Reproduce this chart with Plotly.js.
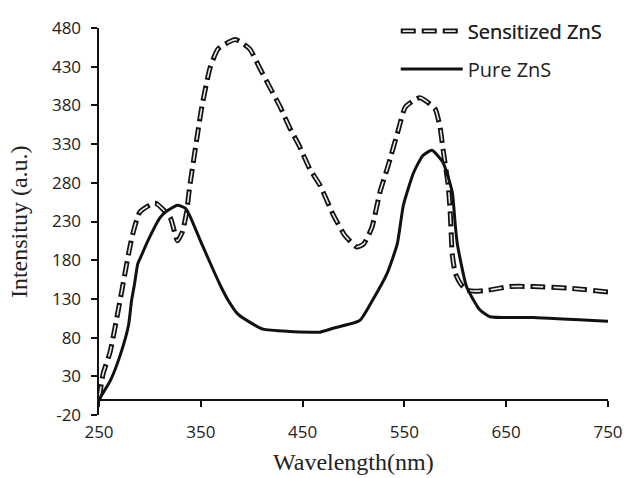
<!DOCTYPE html>
<html>
<head>
<meta charset="utf-8">
<script src="https://cdn.plot.ly/plotly-3.0.1.min.js"></script>
<style>html,body{margin:0;padding:0;background:#fff;}#chart{width:628px;height:478px;}</style>
</head>
<body>
<div id="chart"></div>
<script>
// Sensitized ZnS (dashed)
const sensX = [250,254,261,269,279,283,290,305,320,327,332,336,339,346,351,359,367,384,398,408,418,428,437,447,457,467,480,491,503,510,518,526,534,544,551,565,580,585,588,593,595,596,597,600,606,612,620,631,654,677,710,750];
const sensY = [0,33,62,116,188,213,242,254,235,205,217,242,274,336,378,428,453,465,453,428,403,378,352,327,298,277,239,213,197,201,222,268,302,348,378,390,376,352,323,277,242,213,188,163,148,141,140,141,146,146,144,139];
// Pure ZnS (solid)
const pureX = [250,251,261,271,279,282,285,288,291,298,310,316,327,335,340,349,359,369,377,386,398,411,437,460,467,480,506,519,533,543,549,559,568,577,588,597,600,602,611,624,634,677,750];
const pureY = [-2,2,24,58,96,128,150,175,184,205,235,243,251,247,235,207,177,148,128,111,100,91,88,87,87,92,102,129,163,201,251,293,315,322,306,268,225,201,146,116,107,106,101];
const xTicks = [250,350,450,550,650,750];
const yTicks = [-20,30,80,130,180,230,280,330,380,430,480];
const sensName = 'Sensitized ZnS';
const pureName = 'Pure ZnS';
const xTitle = 'Wavelength(nm)';
const yTitle = 'Intensituy (a.u.)';

const traces = [
  {x: sensX, y: sensY, type: 'scatter', mode: 'lines', name: sensName, legend: 'legend',
   line: {color: '#111', width: 5, dash: '15px,6px', shape: 'spline', smoothing: 0.5}},
  {x: sensX, y: sensY, type: 'scatter', mode: 'lines', name: sensName, legend: 'legend3',
   line: {color: '#e8e8e8', width: 1.6, dash: '0px,2px,11px,8px', shape: 'spline', smoothing: 0.5}},
  {x: pureX, y: pureY, type: 'scatter', mode: 'lines', name: pureName, legend: 'legend2',
   line: {color: '#111', width: 3, shape: 'spline', smoothing: 0.5}}
];

const legFont = {family: 'Open Sans, sans-serif', size: 20, color: '#222'};
const legBase = {xanchor: 'left', yanchor: 'middle', bgcolor: 'rgba(0,0,0,0)', font: legFont, itemwidth: 62, borderwidth: 0};

const layout = {
  width: 628, height: 478,
  margin: {l: 99, r: 20, t: 19, b: 63, pad: 0},
  paper_bgcolor: '#fff', plot_bgcolor: '#fff',
  font: {family: 'Open Sans, sans-serif', size: 17, color: '#222'},
  xaxis: {
    range: [250, 750], tickvals: xTicks, ticktext: xTicks.map(String),
    showgrid: false, zeroline: false, showline: true, linecolor: '#111', linewidth: 2.5,
    ticks: 'outside', ticklen: 6, tickwidth: 2, tickcolor: '#111',
    anchor: 'free', position: 0.04, ticklabelstandoff: 11,
    tickfont: {family: 'Open Sans, sans-serif', size: 17, color: '#222'}
  },
  yaxis: {
    range: [-20, 480], tickvals: yTicks, ticktext: yTicks.map(String),
    showgrid: false, zeroline: false, showline: true, linecolor: '#111', linewidth: 2.5,
    ticks: 'outside', ticklen: 6, tickwidth: 2, tickcolor: '#111',
    ticklabelstandoff: 6,
    tickfont: {family: 'Open Sans, sans-serif', size: 17, color: '#222'}
  },
  showlegend: true,
  legend: Object.assign({}, legBase, {x: 0.583, y: 0.992}),
  legend3: Object.assign({}, legBase, {x: 0.583, y: 0.992}),
  legend2: Object.assign({}, legBase, {x: 0.583, y: 0.894}),
  annotations: [
    {text: xTitle, xref: 'paper', yref: 'paper', x: 0.5, y: -0.122, xanchor: 'center', yanchor: 'middle', showarrow: false,
     font: {family: 'Liberation Serif, Times New Roman, serif', size: 24, color: '#222'}},
    {text: yTitle, xref: 'paper', yref: 'paper', x: -0.158, y: 0.5, xanchor: 'center', yanchor: 'middle', showarrow: false, textangle: -90,
     font: {family: 'Liberation Serif, Times New Roman, serif', size: 24, color: '#222'}}
  ]
};

Plotly.newPlot('chart', traces, layout, {displayModeBar: false, staticPlot: true});
</script>
</body>
</html>
